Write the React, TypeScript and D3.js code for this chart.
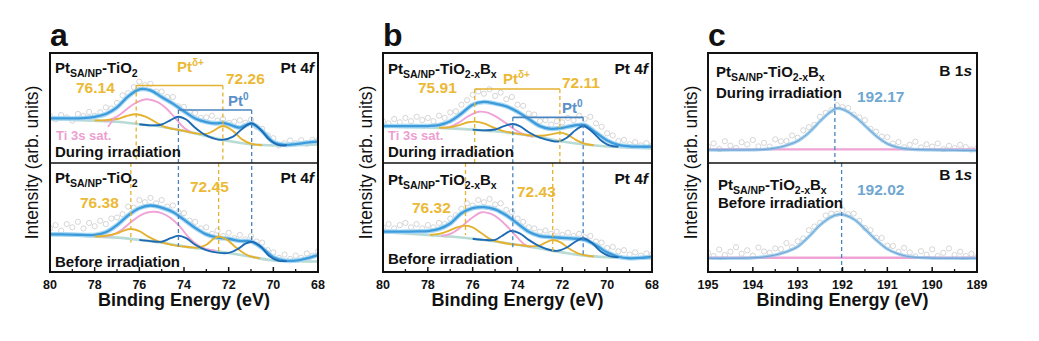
import React from "react";
import * as d3 from "d3";

type P = [number, number];

const FONT = "'Liberation Sans', Arial, Helvetica, sans-serif";

// ---------- axis ticks ----------
const ptTicks = [80, 78, 76, 74, 72, 70, 68];
const ptMinorTicks = [79, 77, 75, 73, 71, 69];
const b1sTicks = [195, 194, 193, 192, 191, 190, 189];
const b1sMinorTicks = [194.5, 193.5, 192.5, 191.5, 190.5, 189.5];

// ---------- raw data energies ----------
const ptScatterBE = [80, 79.75, 79.5, 79.25, 79, 78.75, 78.5, 78.25, 78, 77.75, 77.5, 77.25, 77, 76.75, 76.5, 76.25, 76, 75.75, 75.5, 75.25, 75, 74.75, 74.5, 74.25, 74, 73.75, 73.5, 73.25, 73, 72.75, 72.5, 72.25, 72, 71.75, 71.5, 71.25, 71, 70.75, 70.5, 70.25, 70, 69.75, 69.5, 69.25, 69, 68.75, 68.5, 68.25, 68];
const b1sScatterBE = [195, 194.875, 194.75, 194.625, 194.5, 194.375, 194.25, 194.125, 194, 193.875, 193.75, 193.625, 193.5, 193.375, 193.25, 193.125, 193, 192.875, 192.75, 192.625, 192.5, 192.375, 192.25, 192.125, 192, 191.875, 191.75, 191.625, 191.5, 191.375, 191.25, 191.125, 191, 190.875, 190.75, 190.625, 190.5, 190.375, 190.25, 190.125, 190, 189.875, 189.75, 189.625, 189.5, 189.375, 189.25, 189.125, 189];

// ---------- panel a : Pt 4f, PtSA/NP-TiO2, during irradiation ----------
const aTopScatter = [42.6, 39.6, 43.6, 41.5, 38.5, 44.6, 42.8, 46.4, 43, 46.2, 50.5, 49.5, 54.6, 61.5, 63.5, 69, 74, 70.8, 72, 65, 65, 60, 60, 51.5, 51, 46.7, 45.5, 41, 41.5, 43, 38.5, 40, 36.5, 37.6, 38.8, 36.6, 39.5, 33, 31, 25, 22.5, 16, 18, 20.5, 18, 20.7, 17.5, 21, 20.5];
const aTopEnvelope: P[] = [[80, 40.6], [79.5, 40.6], [79, 40.5], [78.5, 40.8], [78, 42], [77.5, 44.5], [77, 50.6], [76.5, 60.5], [76, 67], [75.5, 66], [75, 60], [74.5, 54], [74, 47], [73.5, 40.5], [73, 37.2], [72.6, 36], [72.25, 36.5], [71.9, 34.5], [71.5, 32.2], [71, 35.8], [70.5, 29], [70, 19], [69.5, 16.5], [69, 17.2], [68.5, 18.5], [68, 19.5]];
const aTopBackground: P[] = [[80, 40], [79, 39.2], [78, 38.5], [77, 37.5], [76, 35.2], [75, 33], [74, 29.2], [73, 24.5], [72, 20], [71, 17], [70, 16], [69, 16.2], [68, 16.8]];
const aTopGold: P[] = [[78, 38.6], [77.5, 39], [77, 40], [76.6, 42.5], [76.14, 44.3], [75.7, 42], [75.3, 37.5], [74.9, 33], [74.5, 31], [74, 29.2], [73.5, 27], [73, 26.5], [72.7, 29], [72.26, 33.6], [71.8, 29], [71.4, 21.5], [71, 17.5], [70.5, 16.2]];
const aTopPink: P[] = [[77.6, 38], [77.2, 40], [76.8, 45], [76.3, 53], [75.7, 57.9], [75.2, 55.5], [74.8, 49.7], [74.4, 41], [74, 32], [73.7, 28]];
const aTopPt0: P[] = [[76, 35.2], [75.5, 34.2], [75, 35], [74.6, 39], [74.25, 42.1], [73.9, 39.5], [73.5, 32], [73.1, 26], [72.7, 22.5], [72.3, 21], [71.8, 24], [71.4, 31], [70.97, 36.1], [70.6, 31], [70.2, 21.5], [69.8, 16.5], [69.4, 16.1]];

// ---------- panel a : before irradiation ----------
const aBotScatter = [40, 43, 38, 44, 41, 46, 40, 45, 42, 47, 44, 49, 50, 53, 60, 59, 66, 64, 68, 63, 66, 60, 61, 55, 54, 47, 46, 40, 41, 35, 38, 33, 36, 31, 34, 30, 33, 28, 27, 20, 18, 13, 16, 12, 15, 13, 17, 15, 19];
const aBotEnvelope: P[] = [[80, 34.6], [79.5, 34.5], [79, 34.3], [78.5, 34], [78, 34], [77.5, 36.5], [77, 43], [76.5, 52], [76, 58.5], [75.5, 61], [75, 59], [74.5, 55], [74, 48], [73.5, 40.5], [73, 34.5], [72.5, 31.5], [72, 30.5], [71.5, 28.5], [71, 28], [70.5, 22], [70, 13.5], [69.5, 10.5], [69, 10.5], [68.5, 12.5], [68, 15.6]];
const aBotBackground: P[] = [[80, 34.6], [79, 33.5], [78, 32.5], [77, 31.5], [76, 29.5], [75, 27], [74, 23.5], [73, 20.5], [72, 17.5], [71, 14], [70, 10.5], [69, 9.8], [68, 9.6]];
const aBotGold: P[] = [[78, 32.5], [77.5, 33.3], [77, 35.5], [76.7, 38], [76.38, 39.4], [76, 37.5], [75.6, 32.5], [75.2, 28.5], [74.8, 26], [74.3, 24], [73.8, 22.9], [73.4, 22.3], [73, 25], [72.7, 30], [72.45, 32.4], [72.1, 30], [71.7, 23], [71.3, 17], [71, 14.2], [70.6, 12.5]];
const aBotPink: P[] = [[77.6, 32.2], [77.2, 34], [76.8, 38.5], [76.3, 47], [75.8, 53.5], [75.4, 55.3], [75, 54], [74.6, 49.5], [74.2, 42], [73.8, 32], [73.4, 25], [73, 21], [72.6, 19.5]];
const aBotPt0: P[] = [[76, 29.5], [75.5, 28.3], [75, 27.8], [74.6, 31], [74.25, 33.3], [73.9, 31], [73.5, 25], [73, 20], [72.5, 17.8], [72, 17.5], [71.6, 21], [71.25, 26], [70.97, 27.8], [70.6, 24], [70.2, 15], [69.8, 10.5], [69.4, 10]];

// ---------- panel b : Pt 4f, PtSA/NP-TiO2-xBx, during irradiation ----------
const bTopScatter = [38, 36, 40, 37, 41, 38, 42, 39, 41, 38, 43, 41, 46, 47, 53, 57, 62, 65, 63, 67, 61, 64, 58, 60, 53, 52, 45, 44, 38, 39, 35, 38, 37, 41, 39, 43, 40, 42, 36, 33, 27, 25, 20, 21, 17, 19, 16, 18, 16];
const bTopEnvelope: P[] = [[80, 33.6], [79.5, 33.6], [79, 33.5], [78.5, 33.5], [78, 33.6], [77.5, 34.5], [77, 38], [76.5, 45], [76, 53], [75.5, 55.5], [75, 54], [74.5, 51.5], [74, 46.5], [73.5, 40], [73, 33.5], [72.5, 31], [72, 32], [71.5, 34], [71, 34.5], [70.5, 27.5], [70, 20.5], [69.5, 16.4], [69, 15.2], [68.5, 14.8], [68, 14.8]];
const bTopBackground: P[] = [[80, 33.2], [79, 32.8], [78, 32.3], [77, 31.5], [76, 30.3], [75, 28.8], [74, 26.5], [73, 23.5], [72, 19.5], [71, 16.8], [70, 15], [69, 14], [68, 13.3]];
const bTopGold: P[] = [[77.5, 32], [77, 32.5], [76.6, 34.5], [76.2, 37], [75.91, 37.6], [75.5, 36], [75.1, 32.5], [74.7, 29.5], [74.2, 27.2], [73.7, 25.8], [73.25, 24.8], [72.8, 25], [72.4, 26.5], [72.11, 27.6], [71.8, 26], [71.4, 21], [71, 17.5], [70.6, 16.2]];
const bTopPink: P[] = [[77.4, 31.7], [77, 33], [76.6, 37], [76.2, 42.5], [75.74, 46.6], [75.3, 45.5], [74.9, 41.5], [74.5, 36], [74.1, 30], [73.7, 26], [73.3, 23.8]];
const bTopPt0: P[] = [[76, 30.3], [75.5, 29.7], [75, 30.5], [74.6, 33.5], [74.21, 35.5], [73.9, 33.5], [73.5, 28], [73, 23], [72.5, 20.2], [72.15, 19.6], [71.8, 23], [71.4, 30], [71.07, 33.6], [70.7, 29], [70.3, 21], [69.9, 16], [69.5, 14.8]];

// ---------- panel b : before irradiation ----------
const bBotScatter = [41, 44, 40, 43, 45, 41, 44, 40, 43, 41, 45, 44, 49, 52, 58, 63, 61, 66, 64, 67, 62, 63, 57, 55, 49, 46, 41, 40, 37, 38, 35, 37, 34, 36, 33, 35, 32, 33, 28, 27, 22, 23, 19, 20, 16, 18, 15, 17, 16];
const bBotEnvelope: P[] = [[80, 37], [79.5, 37], [79, 37], [78.5, 37.2], [78, 37.5], [77.5, 39.5], [77, 44.5], [76.5, 53.9], [76, 58.5], [75.5, 59.5], [75, 57.5], [74.5, 52], [74, 44.5], [73.5, 37], [73, 33], [72.5, 32], [72, 31.3], [71.5, 30.7], [71, 29.5], [70.5, 24.5], [70, 18], [69.5, 14], [69, 12.6], [68.5, 13], [68, 14]];
const bBotBackground: P[] = [[80, 36.5], [79, 35.3], [78, 34], [77, 32.5], [76, 30.5], [75, 28], [74, 25], [73, 21.5], [72, 18], [71, 15], [70, 13.5], [69, 12.8], [68, 12.5]];
const bBotGold: P[] = [[77.9, 34], [77.5, 35], [77.1, 37.5], [76.7, 41], [76.32, 42.5], [76, 41], [75.6, 35.5], [75.2, 30], [74.8, 27.5], [74.3, 25.5], [73.8, 24.5], [73.4, 23.5], [73, 24.5], [72.7, 27.5], [72.43, 29.4], [72.1, 27.5], [71.7, 21.5], [71.3, 17], [71, 15.5], [70.6, 14.2]];
const bBotPink: P[] = [[77.4, 33], [77, 35], [76.6, 40], [76.1, 48.5], [75.6, 54.8], [75.2, 53.5], [74.8, 48.5], [74.4, 40.5], [74, 31.5], [73.7, 25.5], [73.4, 22.8]];
const bBotPt0: P[] = [[76, 30.5], [75.5, 29.5], [75, 29.5], [74.7, 33], [74.3, 37.6], [73.9, 35.5], [73.5, 29.5], [73, 23.5], [72.5, 20], [72.2, 19.5], [71.8, 22.5], [71.4, 28], [71.07, 30.9], [70.7, 27], [70.3, 19], [69.9, 14.5], [69.5, 13.5]];

// ---------- panel c : B 1s ----------
const cTopScatter = [14.8, 17.8, 12.8, 19.8, 15.8, 13.8, 18.9, 16.9, 20.9, 15.1, 18.3, 14.9, 21.5, 19.7, 20, 25, 23, 29.7, 32.5, 34.7, 42, 45.5, 48, 52.5, 50.8, 50, 44, 41.5, 39, 31, 28.5, 24, 23.5, 17.7, 19, 14.3, 16.6, 19.4, 14.2, 17, 14.9, 17.8, 12.7, 15.6, 13.6, 16.5, 14.4, 12.3, 13.3];
const cTopFit: P[] = [[195, 11.8], [194.5, 11.8], [194, 11.9], [193.75, 12.3], [193.5, 13.5], [193.25, 16], [193, 20], [192.75, 27.5], [192.5, 38], [192.25, 47], [192.12, 49.7], [192, 48.8], [191.75, 43], [191.5, 34], [191.25, 24.5], [191, 17.5], [190.75, 14], [190.5, 12.6], [190, 11.9], [189.5, 11.6], [189, 11.3]];
const cTopBackground: P[] = [[195, 12.4], [189, 12.4]];
const cBotScatter = [17.6, 14.6, 20.6, 15.6, 18.6, 22.7, 16.8, 19.9, 15, 22.4, 18.8, 17.7, 21.6, 21, 26.5, 22.8, 28.2, 30.8, 38.4, 41.7, 45.1, 51.8, 53.5, 53.4, 56.9, 53, 53.6, 47, 40.4, 38.4, 31.4, 31.2, 24.1, 23.8, 18.5, 22.2, 18, 14.4, 19.1, 15.9, 20.8, 14.7, 17.6, 21.6, 15.6, 18.6, 14.6, 16.6, 13.6];
const cBotFit: P[] = [[195, 12.6], [194.5, 12.6], [194, 13], [193.75, 13.8], [193.5, 15.6], [193.25, 18.5], [193, 23.2], [192.75, 32.4], [192.5, 43.1], [192.25, 50.5], [192.05, 52.9], [191.75, 48.6], [191.5, 39.4], [191.25, 29.4], [191, 21.1], [190.75, 16.5], [190.5, 14], [190, 12.8], [189.5, 12.6], [189, 12.6]];
const cBotBackground: P[] = [[195, 13.1], [189, 13.1]];

// peak positions (eV)
const aGoldTop = [76.14, 72.26];
const aGoldBot = [76.38, 72.45];
const aPt0 = [74.25, 70.97];
const bGoldTop = [75.91, 72.11];
const bGoldBot = [76.32, 72.43];
const bPt0 = [74.21, 71.07];
const cPeakTop = 192.17;
const cPeakBot = 192.02;

const C = {
  env: "#3d9bdb",
  envHalo: "#a9d8f3",
  bg: "#b9dbd5",
  gold: "#e5b230",
  goldText: "#ebb936",
  pink: "#f0a3d5",
  pinkText: "#ec9fd0",
  pt0: "#1d6bb5",
  pt0Text: "#5a90c8",
  pt0Line: "#4a84be",
  scatter: "#cbcbcb",
  black: "#111111",
  bFit: "#8ec6e8",
  bFitCore: "#5f8fcc",
  bText: "#6fa7d1",
};

const TOP = 53;
const MID = 163;
const BOT = 272;

const yTop = d3.scaleLinear().domain([0, 100]).range([MID, TOP]);
const yBot = d3.scaleLinear().domain([0, 100]).range([BOT, MID]);

type SubData = { scatter: number[]; env: P[]; bg: P[]; gold: P[]; pink: P[]; pt0: P[] };

function mkLine(x: d3.ScaleLinear<number, number>, y: d3.ScaleLinear<number, number>) {
  return d3
    .line<P>()
    .x((p) => x(p[0]))
    .y((p) => y(p[1]))
    .curve(d3.curveCatmullRom.alpha(0.5));
}

function PtSub({ x, y, d, clip }: { x: any; y: any; d: SubData; clip: string }) {
  const ln = mkLine(x, y);
  return (
    <g clipPath={`url(#${clip})`}>
      {d.scatter.map((v, i) => (
        <circle key={i} cx={x(ptScatterBE[i])} cy={y(v)} r={2.6} fill="none" stroke={C.scatter} strokeWidth={0.8} />
      ))}
      <path d={ln(d.bg) || ""} fill="none" stroke={C.bg} strokeWidth={2.6} />
      <path d={ln(d.env) || ""} fill="none" stroke={C.envHalo} strokeWidth={4.6} />
      <path d={ln(d.env) || ""} fill="none" stroke={C.env} strokeWidth={2.3} />
      <path d={ln(d.pink) || ""} fill="none" stroke={C.pink} strokeWidth={1.9} />
      <path d={ln(d.gold) || ""} fill="none" stroke={C.gold} strokeWidth={1.9} />
      <path d={ln(d.pt0) || ""} fill="none" stroke={C.pt0} strokeWidth={1.9} />
    </g>
  );
}

function Frame({ x0, x1, id }: { x0: number; x1: number; id: string }) {
  return (
    <g>
      <defs>
        <clipPath id={`${id}-t`}>
          <rect x={x0} y={TOP} width={x1 - x0} height={MID - TOP} />
        </clipPath>
        <clipPath id={`${id}-b`}>
          <rect x={x0} y={MID} width={x1 - x0} height={BOT - MID} />
        </clipPath>
      </defs>
    </g>
  );
}

function FrameLines({ x0, x1 }: { x0: number; x1: number }) {
  return (
    <g>
      <rect x={x0} y={TOP} width={x1 - x0} height={BOT - TOP} fill="none" stroke={C.black} strokeWidth={2} />
      <line x1={x0} x2={x1} y1={MID} y2={MID} stroke={C.black} strokeWidth={1.6} />
    </g>
  );
}

function XAxis({ x, ticks, minor }: { x: any; ticks: number[]; minor: number[] }) {
  const [r0, r1] = x.range();
  return (
    <g fontFamily={FONT}>
      {ticks.map((t) => (
        <g key={t}>
          <line x1={x(t)} x2={x(t)} y1={BOT} y2={BOT - 5} stroke={C.black} strokeWidth={1.5} />
          <text x={x(t)} y={289} textAnchor="middle" fontSize={12.5} fontWeight="bold" fill={C.black}>
            {t}
          </text>
        </g>
      ))}
      {minor.map((t) => (
        <line key={t} x1={x(t)} x2={x(t)} y1={BOT} y2={BOT - 3} stroke={C.black} strokeWidth={1.3} />
      ))}
      <text x={(r0 + r1) / 2} y={306} textAnchor="middle" fontSize={18} fontWeight="bold" fill={C.black}>
        Binding Energy (eV)
      </text>
    </g>
  );
}

function YLabel({ x }: { x: number }) {
  return (
    <text
      transform={`translate(${x},${(TOP + BOT) / 2}) rotate(-90)`}
      textAnchor="middle"
      fontFamily={FONT}
      fontSize={17.5}
      fill={C.black}
      fontWeight={500}
    >
      Intensity (arb. units)
    </text>
  );
}

function Sample({ x, y, boron }: { x: number; y: number; boron?: boolean }) {
  return (
    <text x={x} y={y} fontFamily={FONT} fontSize={15} fontWeight="bold" fill={C.black}>
      Pt
      <tspan fontSize={10.5} dy={4}>
        SA/NP
      </tspan>
      <tspan dy={-4}>-TiO</tspan>
      <tspan fontSize={10.5} dy={4}>
        {boron ? "2-x" : "2"}
      </tspan>
      {boron ? <tspan dy={-4}>B</tspan> : null}
      {boron ? (
        <tspan fontSize={10.5} dy={4}>
          x
        </tspan>
      ) : null}
    </text>
  );
}

function Core({ x, y, main, it }: { x: number; y: number; main: string; it: string }) {
  return (
    <text x={x} y={y} textAnchor="end" fontFamily={FONT} fontSize={15.5} fontWeight="bold" fill={C.black}>
      {main}
      <tspan fontStyle="italic">{it}</tspan>
    </text>
  );
}

function T({ x, y, c, children, size }: any) {
  return (
    <text x={x} y={y} fontFamily={FONT} fontSize={size || 15.5} fontWeight="bold" fill={c}>
      {children}
    </text>
  );
}

type PtCfg = {
  id: string;
  letter: string;
  x0: number;
  x1: number;
  top: SubData;
  bot: SubData;
  goldTop: number[];
  goldBot: number[];
  pt0: number[];
  goldBracket: number;
  pt0Bracket: number;
  pt0End: number[];
  goldBotEnd: number[];
  boron: boolean;
  lab: any;
};

function PtPanel({ cfg }: { cfg: PtCfg }) {
  const x = d3.scaleLinear().domain([80, 68]).range([cfg.x0, cfg.x1]);
  const L = cfg.lab;
  const dash = "4 3";
  const gY = yTop(cfg.goldBracket);
  const pY = yTop(cfg.pt0Bracket);
  return (
    <g>
      <Frame x0={cfg.x0} x1={cfg.x1} id={cfg.id} />
      <PtSub x={x} y={yTop} d={cfg.top} clip={`${cfg.id}-t`} />
      <PtSub x={x} y={yBot} d={cfg.bot} clip={`${cfg.id}-b`} />
      {/* Pt delta+ bracket (top) */}
      <line x1={x(cfg.goldTop[0])} x2={x(cfg.goldTop[1])} y1={gY} y2={gY} stroke={C.gold} strokeWidth={1.6} />
      {cfg.goldTop.map((e) => (
        <line key={e} x1={x(e)} x2={x(e)} y1={gY} y2={MID} stroke={C.gold} strokeWidth={1.3} strokeDasharray={dash} />
      ))}
      {/* Pt0 bracket */}
      <line x1={x(cfg.pt0[0])} x2={x(cfg.pt0[1])} y1={pY} y2={pY} stroke={C.pt0Line} strokeWidth={1.6} />
      {cfg.pt0.map((e, i) => (
        <line key={e} x1={x(e)} x2={x(e)} y1={pY} y2={yBot(cfg.pt0End[i])} stroke={C.pt0Line} strokeWidth={1.3} strokeDasharray={dash} />
      ))}
      {/* bottom gold */}
      {cfg.goldBot.map((e, i) => (
        <line key={e} x1={x(e)} x2={x(e)} y1={MID} y2={yBot(cfg.goldBotEnd[i])} stroke={C.gold} strokeWidth={1.3} strokeDasharray={dash} />
      ))}
      <FrameLines x0={cfg.x0} x1={cfg.x1} />
      <XAxis x={x} ticks={ptTicks} minor={ptMinorTicks} />
      <text x={cfg.x0} y={46} fontFamily={FONT} fontSize={32} fontWeight="bold" fill={C.black}>
        {cfg.letter}
      </text>
      {/* labels top */}
      <Sample x={L.sample[0]} y={L.sample[1]} boron={cfg.boron} />
      <Core x={cfg.x1 - 4} y={L.core[0]} main="Pt 4" it="f" />
      <T x={L.g1[0]} y={L.g1[1]} c={C.goldText}>{cfg.goldTop[0].toFixed(2)}</T>
      <T x={L.g2[0]} y={L.g2[1]} c={C.goldText}>{cfg.goldTop[1].toFixed(2)}</T>
      <text x={L.pd[0]} y={L.pd[1]} fontFamily={FONT} fontSize={15} fontWeight="bold" fill={C.goldText}>
        Pt
        <tspan fontSize={10} dy={-6}>
          δ+
        </tspan>
      </text>
      <text x={L.p0[0]} y={L.p0[1]} fontFamily={FONT} fontSize={15} fontWeight="bold" fill={C.pt0Text}>
        Pt
        <tspan fontSize={10} dy={-6}>
          0
        </tspan>
      </text>
      <T x={L.ti[0]} y={L.ti[1]} c={C.pinkText} size={13}>
        Ti 3s sat.
      </T>
      {L.pointer ? (
        <line x1={L.pointer[0]} y1={L.pointer[1]} x2={L.pointer[2]} y2={L.pointer[3]} stroke={C.pink} strokeWidth={1.6} />
      ) : null}
      <T x={L.sample[0]} y={L.during} c={C.black} size={15}>
        During irradiation
      </T>
      {/* labels bottom */}
      <Sample x={L.sample[0]} y={L.sampleB} boron={cfg.boron} />
      <Core x={cfg.x1 - 4} y={L.core[1]} main="Pt 4" it="f" />
      <T x={L.gb1[0]} y={L.gb1[1]} c={C.goldText}>{cfg.goldBot[0].toFixed(2)}</T>
      <T x={L.gb2[0]} y={L.gb2[1]} c={C.goldText}>{cfg.goldBot[1].toFixed(2)}</T>
      <T x={L.sample[0]} y={L.before} c={C.black} size={15}>
        Before irradiation
      </T>
    </g>
  );
}

function BPanel() {
  const x0 = 708;
  const x1 = 977;
  const x = d3.scaleLinear().domain([195, 189]).range([x0, x1]);
  const subs = [
    { y: yTop, scatter: cTopScatter, fit: cTopFit, bg: cTopBackground, clip: "c-t" },
    { y: yBot, scatter: cBotScatter, fit: cBotFit, bg: cBotBackground, clip: "c-b" },
  ];
  const dash = "4 3";
  return (
    <g>
      <Frame x0={x0} x1={x1} id="c" />
      {subs.map((s) => {
        const ln = mkLine(x, s.y);
        return (
          <g key={s.clip} clipPath={`url(#${s.clip})`}>
            {s.scatter.map((v, i) => (
              <circle key={i} cx={x(b1sScatterBE[i])} cy={s.y(v)} r={2.6} fill="none" stroke={C.scatter} strokeWidth={0.8} />
            ))}
            <path d={ln(s.bg) || ""} fill="none" stroke={C.pink} strokeWidth={2.4} />
            <path d={ln(s.fit) || ""} fill="none" stroke={C.bFit} strokeWidth={3.2} opacity={0.85} />
            <path d={ln(s.fit) || ""} fill="none" stroke={C.bFitCore} strokeWidth={0.9} opacity={0.8} />
          </g>
        );
      })}
      <line x1={x(cPeakTop)} x2={x(cPeakTop)} y1={yTop(60)} y2={MID} stroke={C.pt0Line} strokeWidth={1.3} strokeDasharray={dash} />
      <line x1={x(cPeakBot)} x2={x(cPeakBot)} y1={MID} y2={BOT} stroke={C.pt0Line} strokeWidth={1.3} strokeDasharray={dash} />
      <FrameLines x0={x0} x1={x1} />
      <XAxis x={x} ticks={b1sTicks} minor={b1sMinorTicks} />
      <text x={x0} y={46} fontFamily={FONT} fontSize={32} fontWeight="bold" fill={C.black}>
        c
      </text>
      <Sample x={716} y={77} boron />
      <Core x={x1 - 5} y={76} main="B 1" it="s" />
      <T x={716} y={98} c={C.black} size={15}>
        During irradiation
      </T>
      <T x={857} y={101.5} c={C.bText}>{cPeakTop.toFixed(2)}</T>
      <Sample x={718} y={190} boron />
      <Core x={x1 - 5} y={180} main="B 1" it="s" />
      <T x={718} y={208} c={C.black} size={15}>
        Before irradiation
      </T>
      <T x={857} y={195} c={C.bText}>{cPeakBot.toFixed(2)}</T>
    </g>
  );
}

const panelA: PtCfg = {
  id: "a",
  letter: "a",
  x0: 50,
  x1: 318,
  top: { scatter: aTopScatter, env: aTopEnvelope, bg: aTopBackground, gold: aTopGold, pink: aTopPink, pt0: aTopPt0 },
  bot: { scatter: aBotScatter, env: aBotEnvelope, bg: aBotBackground, gold: aBotGold, pink: aBotPink, pt0: aBotPt0 },
  goldTop: aGoldTop,
  goldBot: aGoldBot,
  pt0: aPt0,
  goldBracket: 70.5,
  pt0Bracket: 48.2,
  pt0End: [23.5, 27.5],
  goldBotEnd: [27, 18.6],
  boron: false,
  lab: {
    sample: [55, 73],
    core: [73, 183],
    g1: [76, 93],
    g2: [226, 84],
    pd: [177, 72],
    p0: [228, 106],
    ti: [56, 140],
    pointer: [115, 117, 108, 127],
    during: 157,
    sampleB: 183,
    gb1: [80, 208],
    gb2: [190, 191.5],
    before: 267,
  },
};

const panelB: PtCfg = {
  id: "b",
  letter: "b",
  x0: 383,
  x1: 652,
  top: { scatter: bTopScatter, env: bTopEnvelope, bg: bTopBackground, gold: bTopGold, pink: bTopPink, pt0: bTopPt0 },
  bot: { scatter: bBotScatter, env: bBotEnvelope, bg: bBotBackground, gold: bBotGold, pink: bBotPink, pt0: bBotPt0 },
  goldTop: bGoldTop,
  goldBot: bGoldBot,
  pt0: bPt0,
  goldBracket: 67.3,
  pt0Bracket: 41.5,
  pt0End: [20, 15.6],
  goldBotEnd: [34, 18],
  boron: true,
  lab: {
    sample: [388, 73.5],
    core: [73.5, 184],
    g1: [418, 93],
    g2: [562, 88],
    pd: [503, 84],
    p0: [562, 113],
    ti: [388, 140],
    pointer: null,
    during: 157,
    sampleB: 185,
    gb1: [412, 213],
    gb2: [517, 196.5],
    before: 264,
  },
};

export default function App() {
  return (
    <svg
      width={1039}
      height={341}
      viewBox="0 0 1039 341"
      style={{ position: "absolute", left: 0, top: 0, display: "block", background: "#fff" }}
    >
      <rect x={0} y={0} width={1039} height={341} fill="#fff" />
      <YLabel x={38} />
      <YLabel x={372} />
      <YLabel x={697} />
      <PtPanel cfg={panelA} />
      <PtPanel cfg={panelB} />
      <BPanel />
    </svg>
  );
}
